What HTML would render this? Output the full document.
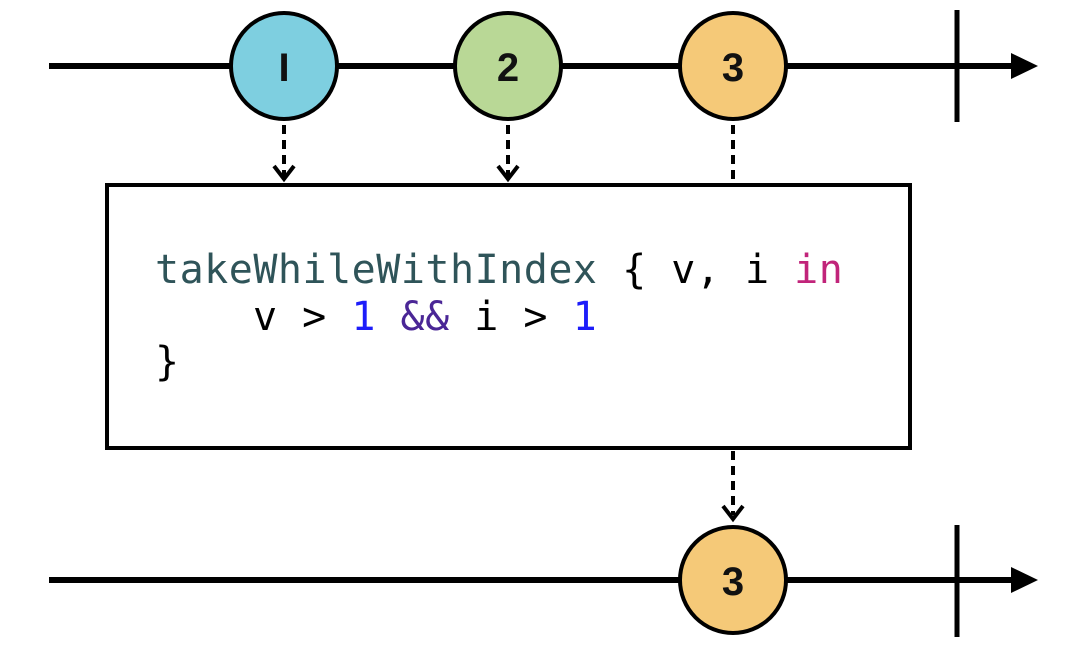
<!DOCTYPE html>
<html><head><meta charset="utf-8"><style>
html,body{margin:0;padding:0;background:#fff;width:1080px;height:654px;overflow:hidden}
text{white-space:pre}
</style></head><body>
<svg width="1080" height="654" viewBox="0 0 1080 654" xmlns="http://www.w3.org/2000/svg">
<g stroke="#000" fill="none">
<line x1="49" y1="66" x2="1015" y2="66" stroke-width="6"/>
<line x1="957" y1="10" x2="957" y2="122" stroke-width="5"/>
<line x1="49" y1="580" x2="1015" y2="580" stroke-width="6"/>
<line x1="957" y1="525" x2="957" y2="637" stroke-width="5"/>
<rect x="107" y="185" width="803" height="263" stroke-width="4"/>
<g stroke-width="4" stroke-dasharray="9,6">
<line x1="284" y1="125" x2="284" y2="176"/>
<line x1="508" y1="125" x2="508" y2="176"/>
<line x1="733" y1="125" x2="733" y2="183"/>
<line x1="733" y1="451" x2="733" y2="515"/>
</g>
<g stroke-width="4">
<polyline points="274,166 284,179 294,166"/>
<polyline points="498,166 508,179 518,166"/>
<polyline points="723,506 733,519 743,506"/>
</g>
</g>
<polygon points="1011,53 1038,66 1011,79" fill="#000"/>
<polygon points="1011,567 1038,580 1011,593" fill="#000"/>
<g stroke="#000" stroke-width="4">
<circle cx="284" cy="66" r="53" fill="#7ecfe0"/>
<circle cx="508" cy="66" r="53" fill="#b9d896"/>
<circle cx="733" cy="66" r="53" fill="#f5c978"/>
<circle cx="733" cy="580" r="53" fill="#f5c978"/>
</g>
<g font-family="Liberation Sans, sans-serif" font-size="40" font-weight="bold" text-anchor="middle" fill="#111">
<text x="284" y="81">I</text>
<text x="508" y="81">2</text>
<text x="733" y="81">3</text>
<text x="733" y="595">3</text>
</g>
<g font-family="DejaVu Sans Mono, monospace" font-size="40" letter-spacing="0.5">
<text x="155" y="283"><tspan fill="#2f5459">takeWhileWithIndex</tspan><tspan fill="#000"> { v, i </tspan><tspan fill="#c1247a">in</tspan></text>
<text x="253" y="330"><tspan fill="#000">v &gt; </tspan><tspan fill="#1d1dfa">1</tspan><tspan fill="#000"> </tspan><tspan fill="#4a2696">&amp;&amp;</tspan><tspan fill="#000"> i &gt; </tspan><tspan fill="#1d1dfa">1</tspan></text>
<text x="155" y="375" fill="#000">}</text>
</g>
</svg>
</body></html>
